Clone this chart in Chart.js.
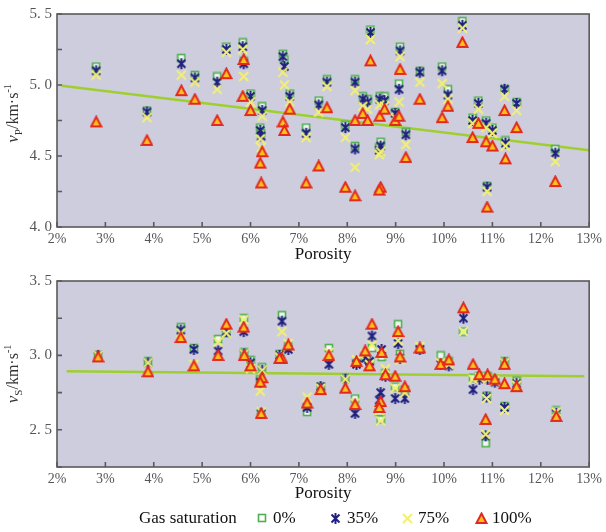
<!DOCTYPE html>
<html>
<head>
<meta charset="utf-8">
<script src="https://cdn.jsdelivr.net/npm/chart.js@4.4.1/dist/chart.umd.min.js"></script>
<style>
  html, body { margin: 0; padding: 0; background: #fff; }
  #wrap { position: relative; width: 606px; height: 532px; overflow: hidden; font-family: 'Liberation Serif', 'DejaVu Serif', serif; }
  #top { position: absolute; left: 0; top: 0; }
  #bot { position: absolute; left: 0; top: 262px; }
  #legend { position: absolute; left: 0; top: 506px; width: 606px; height: 26px; font-size: 17px; color: #111; }
  #legend span { position: absolute; top: 0; line-height: 24px; white-space: nowrap; }
  #legend canvas { position: absolute; }
</style>
</head>
<body>
<div id="wrap">
  <canvas id="top" width="606" height="265" style="width:606px;height:265px"></canvas>
  <canvas id="bot" width="606" height="242" style="width:606px;height:242px"></canvas>
  <div id="legend"></div>
</div>
<script>
// P-wave velocity vs porosity (top panel)
const vpPor = [2.81, 3.86, 4.57, 4.85, 5.31, 5.50, 5.84, 5.86, 6.00, 6.24, 6.20, 6.22, 6.67, 6.70, 6.81,
  7.15, 7.41, 7.58, 7.96, 8.16, 8.16, 8.32, 8.42, 8.48, 8.67, 8.77, 8.69, 8.66, 8.99, 9.07,
  9.09, 9.21, 9.50, 9.96, 10.08, 10.38, 10.59, 10.71, 10.87, 11.00, 10.89, 11.25, 11.27, 11.50, 12.30];
const vp0 = [5.13, 4.82, 5.19, 5.07, 5.06, 5.27, 5.30, 5.17, 4.94, 4.85, 4.70, 4.66, 5.22, 5.18, 4.94,
  4.70, 4.89, 5.04, 4.72, 5.04, 4.57, 4.92, 4.90, 5.39, 4.92, 4.92, 4.60, 4.56, 4.81, 5.01,
  5.27, 4.67, 5.10, 5.13, 4.97, 5.45, 4.77, 4.89, 4.75, 4.70, 4.29, 4.97, 4.61, 4.88, 4.55];
const vp35 = [5.10, 4.81, 5.15, 5.05, 5.02, 5.25, 5.27, 5.15, 4.92, 4.82, 4.68, 4.64, 5.20, 5.13, 4.92,
  4.66, 4.86, 5.02, 4.70, 5.02, 4.55, 4.90, 4.88, 5.37, 4.90, 4.89, 4.57, 4.54, 4.80, 4.97,
  5.24, 4.65, 5.09, 5.10, 4.93, 5.42, 4.75, 4.87, 4.73, 4.68, 4.28, 4.97, 4.59, 4.87, 4.52];
const vp75 = [5.07, 4.77, 5.07, 5.02, 4.97, 5.23, 5.25, 5.06, 4.88, 4.78, 4.62, 4.56, 5.09, 5.00, 4.88,
  4.63, 4.81, 4.99, 4.63, 4.96, 4.42, 4.85, 4.83, 5.32, 4.86, 4.85, 4.53, 4.51, 4.77, 4.88,
  5.20, 4.58, 5.02, 5.01, 4.90, 5.40, 4.73, 4.83, 4.70, 4.66, 4.25, 4.92, 4.57, 4.82, 4.46];
const vp100 = [4.74, 4.61, 4.96, 4.90, 4.75, 5.08, 4.92, 5.18, 4.82, 4.53, 4.45, 4.31, 4.74, 4.68, 4.83,
  4.31, 4.43, 4.84, 4.28, 4.75, 4.22, 4.80, 4.75, 5.17, 4.78, 4.83, 4.28, 4.26, 4.75, 4.78,
  5.11, 4.49, 4.90, 4.77, 4.85, 5.30, 4.63, 4.73, 4.60, 4.57, 4.14, 4.82, 4.48, 4.70, 4.32];
const vpFitX = [2.1, 13];
const vpFitY = [4.995, 4.54];

// S-wave velocity vs porosity (bottom panel)
const vsPor = [2.85, 3.88, 4.56, 4.83, 5.33, 5.50, 5.86, 5.87, 6.00, 6.24, 6.20, 6.22, 6.65, 6.60, 6.78,
  7.17, 7.45, 7.62, 7.96, 8.16, 8.19, 8.37, 8.46, 8.51, 8.71, 8.69, 8.66, 8.79, 8.99, 9.05,
  9.09, 9.19, 9.50, 9.93, 10.10, 10.40, 10.60, 10.73, 10.90, 10.88, 10.86, 11.05, 11.25, 11.25, 11.50, 12.32];
const vs0 = [3.00, 2.96, 3.19, 3.05, 3.11, 3.15, 3.25, 3.02, 2.97, 2.92, 2.84, 2.61, 3.27, 3.01, 3.06,
  2.62, 2.79, 3.05, 2.85, 2.71, 2.95, 2.99, 2.96, 3.05, 2.99, 2.57, 2.62, 2.88, 2.79, 3.21,
  3.01, 2.77, 3.04, 3.00, 2.96, 3.16, 2.85, 2.86, 2.86, 2.73, 2.41, 2.83, 2.96, 2.66, 2.83, 2.63];
const vs35 = [3.00, 2.95, 3.17, 3.04, 3.03, 3.16, 3.16, 3.01, 2.95, 2.90, 2.82, 2.61, 3.23, 3.00, 3.04,
  2.65, 2.79, 2.94, 2.84, 2.61, 2.94, 2.98, 2.96, 3.13, 3.04, 2.75, 2.70, 2.86, 2.71, 3.08,
  2.98, 2.71, 3.04, 2.94, 2.93, 3.25, 2.77, 2.84, 2.84, 2.72, 2.46, 2.82, 2.95, 2.65, 2.81, 2.61];
const vs75 = [3.00, 2.95, 3.15, 2.94, 3.09, 3.15, 3.24, 3.01, 2.91, 2.90, 2.76, 2.62, 3.16, 2.99, 3.08,
  2.72, 2.78, 3.02, 2.84, 2.68, 2.97, 3.01, 2.94, 3.07, 3.01, 2.56, 2.63, 2.91, 2.78, 3.10,
  2.97, 2.75, 3.06, 2.95, 2.94, 3.16, 2.84, 2.85, 2.84, 2.71, 2.47, 2.83, 2.95, 2.63, 2.80, 2.62];
const vs100 = [2.99, 2.89, 3.12, 2.93, 3.00, 3.21, 3.19, 3.00, 2.93, 2.85, 2.82, 2.61, 2.98, 2.98, 3.07,
  2.68, 2.77, 3.00, 2.78, 2.67, 2.96, 3.03, 2.93, 3.21, 3.02, 2.69, 2.65, 2.87, 2.86, 3.16,
  2.99, 2.79, 3.05, 2.94, 2.97, 3.32, 2.94, 2.87, 2.87, null, 2.57, 2.84, 2.94, 2.81, 2.79, 2.59];
const vsFitX = [2.2, 12.9];
const vsFitY = [2.893, 2.86];

const satLabels = ['0%', '35%', '75%', '100%'];
const serif = "'Liberation Serif', 'DejaVu Serif', serif";

// little canvases used as point styles and legend icons
function makeMark(kind) {
  const s = kind === 'sq' ? 10 : 13;
  const c = document.createElement('canvas');
  c.width = s; c.height = s;
  const g = c.getContext('2d');
  const m = s / 2;
  g.lineWidth = 2;
  if (kind === 'sq') {
    g.fillStyle = 'rgba(255,255,255,0.8)';
    g.strokeStyle = '#4fb04f';
    g.lineWidth = 1.6;
    g.fillRect(1.5, 1.5, s - 3, s - 3);
    g.strokeRect(1.5, 1.5, s - 3, s - 3);
  } else if (kind === 'star') {
    g.strokeStyle = '#20207e';
    g.beginPath();
    g.moveTo(2.5, 2.5); g.lineTo(s - 2.5, s - 2.5);
    g.moveTo(s - 2.5, 2.5); g.lineTo(2.5, s - 2.5);
    g.moveTo(m, 1); g.lineTo(m, s - 1);
    g.stroke();
  } else if (kind === 'x') {
    g.strokeStyle = '#f2f070';
    g.beginPath();
    g.moveTo(2, 2); g.lineTo(s - 2, s - 2);
    g.moveTo(s - 2, 2); g.lineTo(2, s - 2);
    g.stroke();
  } else {
    g.fillStyle = '#ffc21a';
    g.strokeStyle = '#e3281c';
    g.beginPath();
    g.moveTo(m, 1.5); g.lineTo(s - 1.5, s - 2); g.lineTo(1.5, s - 2);
    g.closePath();
    g.fill(); g.stroke();
  }
  return c;
}
const markKinds = ['sq', 'star', 'x', 'tri'];

const pts = (xs, ys) => xs.map((x, i) => ({ x: x, y: ys[i] }));

// plot background, box and inward tick marks
const frame = {
  id: 'frame',
  beforeDraw(chart) {
    const { ctx, chartArea: a } = chart;
    ctx.save();
    ctx.fillStyle = '#cdcdde';
    ctx.fillRect(a.left, a.top, a.right - a.left, a.bottom - a.top);
    ctx.restore();
  },
  afterDraw(chart) {
    const { ctx, chartArea: a, scales } = chart;
    ctx.save();
    ctx.strokeStyle = '#5a5a5a';
    ctx.lineWidth = 1.6;
    ctx.strokeRect(a.left, a.top, a.right - a.left, a.bottom - a.top);
    ctx.beginPath();
    scales.x.ticks.forEach(t => {
      const px = scales.x.getPixelForValue(t.value);
      ctx.moveTo(px, a.bottom); ctx.lineTo(px, a.bottom - 5);
    });
    scales.y.ticks.forEach(t => {
      const py = scales.y.getPixelForValue(t.value);
      ctx.moveTo(a.left, py); ctx.lineTo(a.left + 5, py);
    });
    ctx.stroke();
    ctx.restore();
  }
};

// y axis title with subscript / superscript
const yTitle = {
  id: 'yTitle',
  afterDraw(chart, args, opts) {
    const { ctx, chartArea: a } = chart;
    ctx.save();
    ctx.translate(opts.x, (a.top + a.bottom) / 2 + opts.dy);
    ctx.rotate(-Math.PI / 2);
    ctx.fillStyle = '#333';
    ctx.textBaseline = 'middle';
    const parts = [
      ['italic 17px ' + serif, 'v', 0],
      ['11px ' + serif, opts.sub, 5],
      ['16px ' + serif, '/km·s', 0],
      ['10px ' + serif, '-1', -6]
    ];
    let w = 0;
    parts.forEach(p => { ctx.font = p[0]; w += ctx.measureText(p[1]).width; });
    let x = -w / 2;
    parts.forEach(p => {
      ctx.font = p[0];
      ctx.fillText(p[1], x, p[2]);
      x += ctx.measureText(p[1]).width;
    });
    ctx.restore();
  }
};

function makeChart(id, por, series, fitX, fitY, yMin, yMax, opts) {
  const datasets = [];
  // triangles on top, then x, star, square, fit line at the bottom
  [3, 2, 1, 0].forEach((k, i) => {
    datasets.push({
      label: satLabels[k],
      data: pts(por, series[k]),
      pointStyle: makeMark(markKinds[k]),
      order: i
    });
  });
  datasets.push({
    label: 'fit',
    data: pts(fitX, fitY),
    showLine: true,
    borderColor: '#9fcf2f',
    borderWidth: 2.5,
    pointRadius: 0,
    order: 9
  });

  return new Chart(document.getElementById(id), {
    type: 'scatter',
    data: { datasets: datasets },
    options: {
      responsive: false,
      animation: false,
      events: [],
      layout: { padding: { top: opts.padTop, right: 4, left: 0, bottom: 0 } },
      plugins: {
        legend: { display: false },
        tooltip: { enabled: false },
        yTitle: { x: 14, dy: opts.titleDy, sub: opts.sub }
      },
      scales: {
        x: {
          type: 'linear',
          min: 2, max: 13,
          grid: { display: false, drawTicks: false },
          border: { display: false },
          ticks: {
            stepSize: 1,
            autoSkip: false,
            maxRotation: 0,
            padding: 4,
            color: '#555',
            font: { family: serif, size: 14 },
            callback: v => v + '%'
          },
          title: {
            display: true,
            text: 'Porosity',
            color: '#111',
            font: { family: serif, size: 17 },
            padding: { top: 0, bottom: 0 }
          },
          afterFit: s => { s.height = opts.xHeight; }
        },
        y: {
          min: yMin, max: yMax,
          grid: { display: false, drawTicks: false },
          border: { display: false },
          ticks: {
            stepSize: 0.25,
            autoSkip: false,
            padding: 5,
            color: '#555',
            font: { family: serif, size: 15 },
            callback: v => Math.abs(v * 2 - Math.round(v * 2)) < 1e-6 ? v.toFixed(1).replace('.', '. ') : ''
          },
          afterFit: s => { s.width = 57; }
        }
      }
    },
    plugins: [frame, yTitle]
  });
}

makeChart('top', vpPor, [vp0, vp35, vp75, vp100], vpFitX, vpFitY, 4.0, 5.5,
  { padTop: 14, xHeight: 38, titleDy: -7, sub: 'P' });
makeChart('bot', vsPor, [vs0, vs35, vs75, vs100], vsFitX, vsFitY, 2.25, 3.5,
  { padTop: 19, xHeight: 37, titleDy: 0, sub: 'S' });

// legend row
const legend = document.getElementById('legend');
function addText(txt, left) {
  const sp = document.createElement('span');
  sp.textContent = txt;
  sp.style.left = left + 'px';
  legend.appendChild(sp);
}
addText('Gas saturation', 139);
const iconX = [262, 335, 407, 481];
const textX = [273, 347, 418, 492];
markKinds.forEach((k, i) => {
  const c = makeMark(k);
  c.style.left = (iconX[i] - c.width / 2) + 'px';
  c.style.top = (12 - c.height / 2) + 'px';
  legend.appendChild(c);
  addText(satLabels[i], textX[i]);
});
</script>
</body>
</html>
